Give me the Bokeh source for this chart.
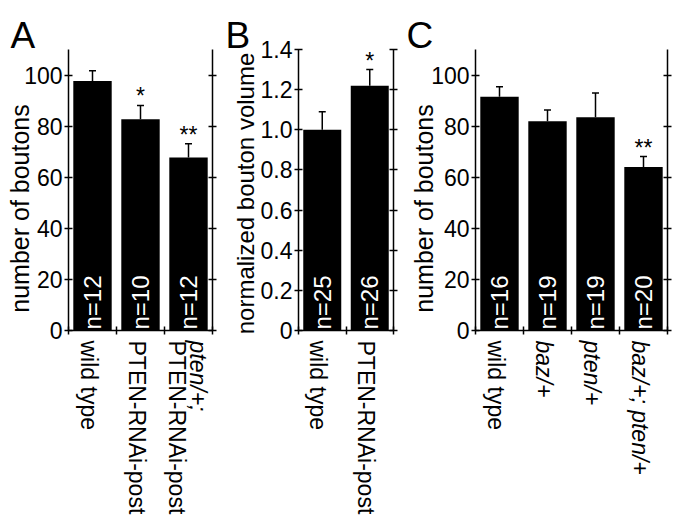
import math
from bokeh.plotting import figure
from bokeh.models import FixedTicker, LinearAxis, Range1d, Label
from bokeh.layouts import row
from bokeh.embed import file_html
from bokeh.resources import INLINE

FONT = "Liberation Sans"

# ---- data ----
a_categories = ["wild type", "PTEN-RNAi-post", "pten/+;\nPTEN-RNAi-post"]
a_values = [97.7, 82.7, 67.7]
a_errors = [4.0, 5.4, 5.4]
a_n = ["n=12", "n=10", "n=12"]
a_sig = ["", "*", "**"]

b_categories = ["wild type", "PTEN-RNAi-post"]
b_values = [1.0, 1.22]
b_errors = [0.09, 0.08]
b_n = ["n=25", "n=26"]
b_sig = ["", "*"]

c_categories = ["wild type", "baz/+", "pten/+", "baz/+; pten/+"]
c_values = [91.5, 81.9, 83.5, 64.0]
c_errors = [3.9, 4.4, 9.5, 4.1]
c_n = ["n=16", "n=19", "n=19", "n=20"]
c_sig = ["", "", "", "**"]

italic_lines = ["pten/+;", "baz/+", "pten/+", "baz/+; pten/+"]

count_ticks = [0, 20, 40, 60, 80, 100]
count_tick_labels = ["0", "20", "40", "60", "80", "100"]
volume_ticks = [0, 0.2, 0.4, 0.6, 0.8, 1.0, 1.2, 1.4]
volume_tick_labels = ["0", "0.2", "0.4", "0.6", "0.8", "1.0", "1.2", "1.4"]

# ---- layout (pixels) ----
HEIGHT = 524
ZERO_PX = 330      # pixel row of the value 0
TOP_PX = 49        # pixel row of the top of the value axis


def panel(letter, categories, values, errors, ns, sigs, ticks, tick_labels, ymax,
          ylabel, ylabel_size, width, frame_l, frame_r, ylabel_dx, ylabel_dy, letter_dx):
    k = len(categories)
    xppu = (frame_r - frame_l) / k
    yppu = (ZERO_PX - TOP_PX) / ymax
    x_range = Range1d(-frame_l / xppu, (width - frame_l) / xppu)
    y_range = Range1d(-(HEIGHT - ZERO_PX) / yppu, ymax + TOP_PX / yppu)
    p = figure(width=width, height=HEIGHT, x_range=x_range, y_range=y_range,
               toolbar_location=None, output_backend="svg",
               min_border=0, x_axis_location=None, y_axis_location=None)
    p.grid.visible = False
    p.outline_line_color = None
    p.title.visible = False

    xs = [i + 0.5 for i in range(k)]
    tops = [v + e for v, e in zip(values, errors)]
    p.vbar(x=xs, top=values, width=0.8, fill_color="black", line_color=None)
    p.segment(x0=xs, y0=values, x1=xs, y1=tops, line_color="black", line_width=1.5)
    p.scatter(x=xs, y=tops, marker="dash", size=7, line_color="black", line_width=1.5)

    def style_axis(ax, labels=True):
        ax.axis_line_width = 1.5
        ax.major_tick_line_width = 1.5
        ax.major_tick_in = 4
        ax.major_tick_out = 4
        ax.minor_tick_line_color = None
        if labels:
            ax.major_label_text_font = FONT
            ax.major_label_text_font_size = "23px"
            ax.major_label_text_color = "black"
            ax.major_label_standoff = 2
        else:
            ax.major_label_text_color = None

    yax = LinearAxis(ticker=FixedTicker(ticks=ticks), fixed_location=0, bounds=(0, ymax),
                     major_label_overrides={t: s for t, s in zip(ticks, tick_labels)})
    style_axis(yax)
    p.add_layout(yax, "left")

    rax = LinearAxis(ticker=FixedTicker(ticks=ticks), fixed_location=k, bounds=(0, ymax))
    style_axis(rax, labels=False)
    p.add_layout(rax, "right")

    xax = LinearAxis(ticker=FixedTicker(ticks=list(range(k + 1))), fixed_location=0,
                     bounds=(0, k))
    style_axis(xax, labels=False)
    p.add_layout(xax, "below")

    # n labels inside bars
    for x, n in zip(xs, ns):
        p.add_layout(Label(x=x, y=0, text=n, angle=math.pi / 2, text_align="left",
                           text_baseline="middle", y_offset=1,
                           text_font=FONT, text_font_size="24px", text_color="white"))
    # significance marks
    for x, t, s in zip(xs, tops, sigs):
        if s:
            p.add_layout(Label(x=x, y=t, text=s, text_align="center",
                               text_baseline="alphabetic", y_offset=9,
                               text_font=FONT, text_font_size="23px", text_color="black"))
    # category labels below axis
    for x, cat in zip(xs, categories):
        lines = cat.split("\n")
        m = len(lines)
        for i, line in enumerate(lines):
            dx = -4 if m == 1 else -1 + ((m - 1) / 2 - i) * 21
            p.add_layout(Label(x=x, y=0, text=line, angle=-math.pi / 2,
                               text_align="left", text_baseline="middle",
                               x_offset=dx, y_offset=-10,
                               text_font=FONT, text_font_size="23px",
                               text_font_style="italic" if line in italic_lines else "normal",
                               text_color="black"))
    # y-axis title
    p.add_layout(Label(x=0, y=0, text=ylabel, angle=math.pi / 2, text_align="center",
                       text_baseline="alphabetic", x_offset=ylabel_dx, y_offset=ylabel_dy,
                       text_font=FONT, text_font_size=ylabel_size, text_color="black"))
    # panel letter
    p.add_layout(Label(x=0, y=0, text=letter, text_align="left", text_baseline="alphabetic",
                       x_offset=letter_dx, y_offset=295,
                       text_font=FONT, text_font_size="37px", text_color="black"))
    return p


pa = panel("A", a_categories, a_values, a_errors, a_n, a_sig, count_ticks, count_tick_labels,
           110, "number of boutons", "25px", 226, 68, 212, -49, 122, -58)
pb = panel("B", b_categories, b_values, b_errors, b_n, b_sig, volume_ticks, volume_tick_labels,
           1.4, "normalized bouton volume", "24px", 179, 72, 167, -53, 137, -73)
pc = panel("C", c_categories, c_values, c_errors, c_n, c_sig, count_ticks, count_tick_labels,
           110, "number of boutons", "25px", 274, 70, 262, -52, 122, -69)

layout = row(pa, pb, pc)
open("out.html", "w").write(file_html(layout, INLINE))
